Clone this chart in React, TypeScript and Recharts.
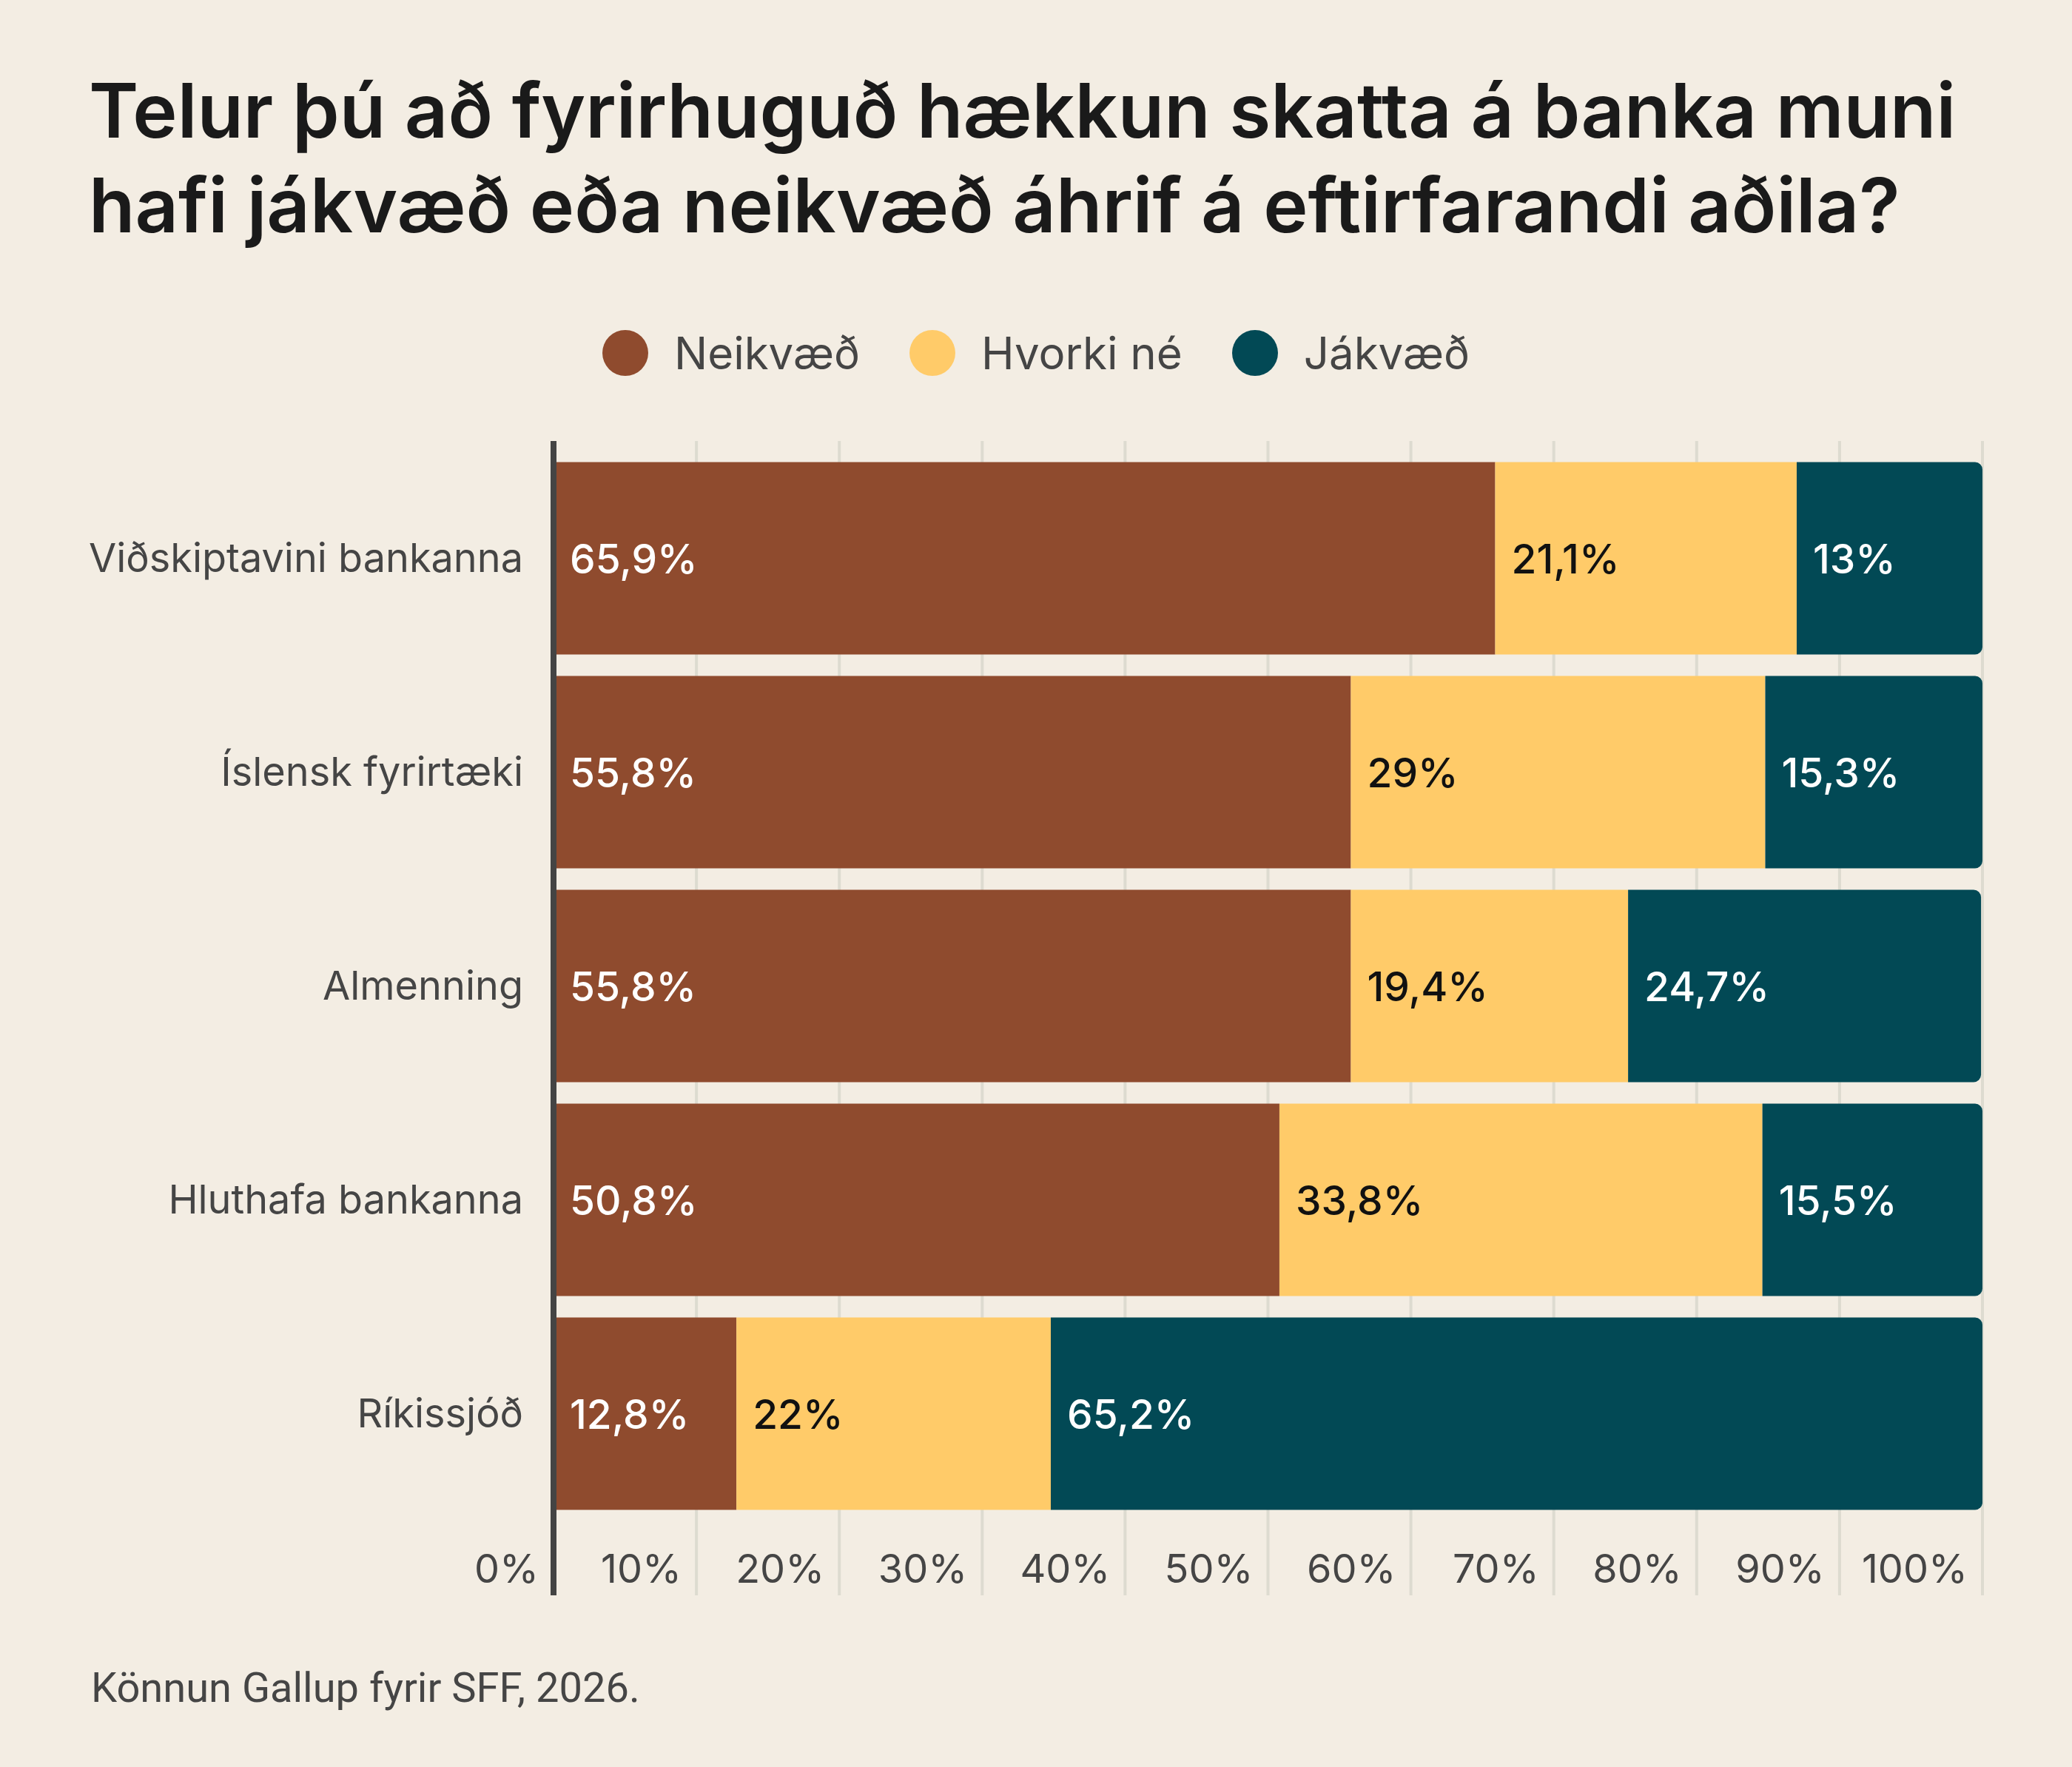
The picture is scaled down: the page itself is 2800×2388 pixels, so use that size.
import React from 'react';
import { BarChart, Bar, XAxis, YAxis, CartesianGrid, LabelList } from 'recharts';

const categories = ['Viðskiptavini bankanna', 'Íslensk fyrirtæki', 'Almenning', 'Hluthafa bankanna', 'Ríkissjóð'];
const neikvaed = [65.9, 55.8, 55.8, 50.8, 12.8];
const hvorki = [21.1, 29, 19.4, 33.8, 22];
const jakvaed = [13, 15.3, 24.7, 15.5, 65.2];
const xTicks = [0, 10, 20, 30, 40, 50, 60, 70, 80, 90, 100];
const seriesNames = ['Neikvæð', 'Hvorki né', 'Jákvæð'];
const seriesKeys = ['neikvaed', 'hvorki', 'jakvaed'];
const seriesColors = ['#8F4B2E', '#FFCB69', '#024955'];
const labelColors = ['#FFFFFF', '#111111', '#FFFFFF'];

const titleLines = [
  'Telur þú að fyrirhuguð hækkun skatta á banka muni',
  'hafi jákvæð eða neikvæð áhrif á eftirfarandi aðila?',
];
const sourceText = 'Könnun Gallup fyrir SFF, 2026.';

const data = categories.map((name, i) => ({
  name,
  neikvaed: neikvaed[i],
  hvorki: hvorki[i],
  jakvaed: jakvaed[i],
}));

const BG = '#F3EDE3';
const TEXT = '#454545';
const FONT = 'Inter, "Noto Sans", sans-serif';

const fmt = (v: number) => String(v).replace('.', ',') + '%';

const makeLabel = (color: string) => (props: any) => {
  const { x, y, height, value } = props;
  if (value == null) return null;
  return (
    <text
      x={Number(x) + 22}
      y={Number(y) + Number(height) / 2 + 20}
      fill={color}
      fontSize={55}
      fontWeight={500}
      fontFamily={FONT}
      textAnchor="start"
    >
      {fmt(value)}
    </text>
  );
};

const renderXTick = (props: any) => {
  const { x, y, payload } = props;
  return (
    <text
      x={Number(x) - 20}
      y={Number(y) - 17}
      fill={TEXT}
      fontSize={54}
      fontFamily={FONT}
      textAnchor="end"
    >
      {payload.value + '%'}
    </text>
  );
};

export default function App() {
  return (
    <div style={{ position: 'relative', width: 2800, height: 2388, background: BG, overflow: 'hidden' }}>
      <style>{`body{margin:0;background:${BG};}`}</style>
      <div
        style={{
          position: 'absolute',
          left: 120,
          top: 85,
          fontFamily: FONT,
          fontSize: 102,
          fontWeight: 600,
          lineHeight: '128px',
          color: '#1A1A1A',
          whiteSpace: 'nowrap',
        }}
      >
        {titleLines.map((l) => (
          <div key={l}>{l}</div>
        ))}
      </div>
      <div
        style={{
          position: 'absolute',
          left: 0,
          top: 446,
          width: 2800,
          height: 62,
          display: 'flex',
          justifyContent: 'center',
          alignItems: 'center',
          fontFamily: FONT,
          fontSize: 60,
          color: TEXT,
        }}
      >
        {seriesNames.map((n, i) => (
          <div key={n} style={{ display: 'flex', alignItems: 'center', marginLeft: i === 0 ? 0 : 67 }}>
            <div style={{ width: 62, height: 62, borderRadius: 31, background: seriesColors[i], marginRight: 35 }} />
            <span>{n}</span>
          </div>
        ))}
      </div>
      <div style={{ position: 'absolute', left: 0, top: 0 }}>
        <BarChart
          width={2800}
          height={2388}
          data={data}
          layout="vertical"
          margin={{ top: 596, right: 121, bottom: 192, left: 0 }}
          barSize={260}
        >
          <CartesianGrid vertical horizontal={false} stroke="#DDDBD0" strokeWidth={4} />
          <XAxis
            type="number"
            domain={[0, 100]}
            ticks={xTicks}
            allowDataOverflow
            height={40}
            axisLine={false}
            tickLine={false}
            tickSize={0}
            tickMargin={0}
            tick={renderXTick}
            interval={0}
          />
          <YAxis
            type="category"
            dataKey="name"
            width={748}
            axisLine={{ stroke: '#444444', strokeWidth: 8 }}
            tickLine={false}
            tickMargin={35}
            padding={{ top: 13.5, bottom: 101.5 }}
            tick={{ fill: TEXT, fontSize: 54, fontFamily: FONT }}
            interval={0}
          />
          {seriesKeys.map((k, i) => (
            <Bar
              key={k}
              dataKey={k}
              name={seriesNames[i]}
              stackId="a"
              fill={seriesColors[i]}
              isAnimationActive={false}
              radius={i === seriesKeys.length - 1 ? [0, 10, 10, 0] : 0}
            >
              <LabelList dataKey={k} content={makeLabel(labelColors[i])} />
            </Bar>
          ))}
        </BarChart>
      </div>
      <div
        style={{
          position: 'absolute',
          left: 123,
          top: 2253,
          fontFamily: 'Roboto, sans-serif',
          fontSize: 56,
          lineHeight: '56px',
          color: TEXT,
          whiteSpace: 'nowrap',
        }}
      >
        {sourceText}
      </div>
    </div>
  );
}
